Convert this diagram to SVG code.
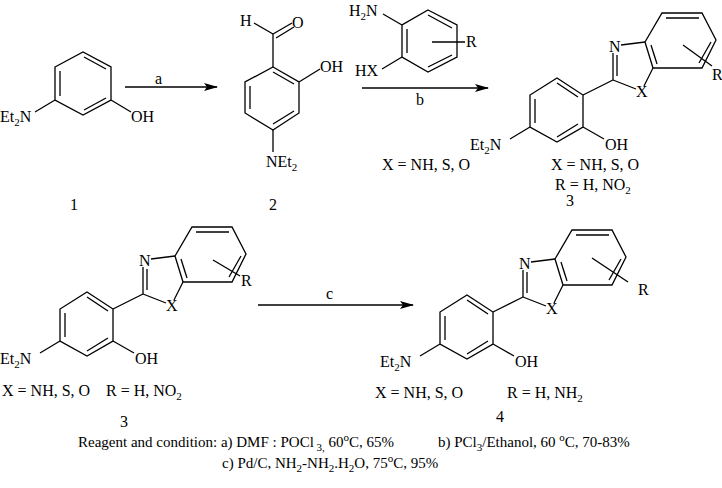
<svg xmlns="http://www.w3.org/2000/svg" width="722" height="488" viewBox="0 0 722 488">
<style>
line,polygon,polyline{stroke:#000;stroke-width:1.3;fill:none}
text{font-family:'Liberation Serif','DejaVu Serif',serif;font-size:16px;fill:#000}
.s{font-size:11px}
.c{font-size:15px}
</style>
<defs><marker id="ah" markerWidth="14" markerHeight="8" refX="13" refY="4" orient="auto" markerUnits="userSpaceOnUse"><path d="M0,0 L14,4 L0,8 L3,4 Z" fill="#000"/></marker></defs>
<rect width="722" height="488" fill="#fff"/>
<g id="c1">
<polygon points="55,67 83,52 111,67 111,100 83,115 55,100"/>
<line x1="60" y1="71" x2="60" y2="96"/><line x1="84" y1="57" x2="106" y2="69"/><line x1="106" y1="98" x2="84" y2="110"/>
<line x1="55" y1="100" x2="35" y2="112"/><line x1="111" y1="100" x2="131" y2="112"/>
<text x="0" y="122">Et<tspan class="s" dy="4">2</tspan><tspan dy="-4">N</tspan></text>
<text x="131" y="122">OH</text>
<text x="70" y="210">1</text>
</g>
<g id="c2">
<polygon points="273,67 299,82 299,113 273,130 245,113 245,82"/>
<line x1="250" y1="86" x2="250" y2="109"/><line x1="273" y1="72" x2="294" y2="84"/><line x1="294" y1="111" x2="273" y2="124"/>
<line x1="273" y1="67" x2="273" y2="34"/><line x1="273" y1="34" x2="254" y2="23"/>
<line x1="273" y1="34" x2="292" y2="23"/><line x1="276" y1="38" x2="294" y2="27"/>
<line x1="299" y1="82" x2="320" y2="69"/><line x1="273" y1="130" x2="273" y2="152"/>
<text x="240" y="26">H</text><text x="292" y="28">O</text>
<text x="320" y="72">OH</text>
<text x="266" y="167">NEt<tspan class="s" dy="4">2</tspan></text>
<text x="269" y="210">2</text>
</g>
<g id="reagent">
<polygon points="428,10 457,25 457,57 428,72 402,57 402,25"/>
<line x1="407" y1="29" x2="407" y2="53"/><line x1="428" y1="15" x2="452" y2="28"/><line x1="452" y1="55" x2="428" y2="67"/>
<line x1="383" y1="14" x2="402" y2="25"/><line x1="402" y1="57" x2="382" y2="69"/>
<line x1="432" y1="42" x2="465" y2="42"/>
<text x="349" y="16">H<tspan class="s" dy="4">2</tspan><tspan dy="-4">N</tspan></text>
<text x="355" y="76">HX</text>
<text x="466" y="47">R</text>
<text x="382" y="170">X = NH, S, O</text>
</g>
<g id="c3a">
<polygon points="557,78 583,95 583,127 557,142 530,127 530,95"/>
<line x1="535" y1="99" x2="535" y2="123"/><line x1="557" y1="83" x2="578" y2="97"/><line x1="578" y1="124" x2="557" y2="137"/>
<line x1="530" y1="127" x2="510" y2="139"/><line x1="583" y1="127" x2="604" y2="139"/>
<line x1="583" y1="95" x2="613" y2="80"/>
<line x1="613" y1="80" x2="613" y2="53"/><line x1="617" y1="76" x2="617" y2="55"/>
<line x1="621" y1="45" x2="645" y2="42"/>
<polygon points="645,42 662,13 702,13 716,40 702,68 653,68"/>
<line x1="651" y1="45" x2="657" y2="64"/><line x1="666" y1="18" x2="699" y2="18"/><line x1="711" y1="42" x2="699" y2="63"/>
<line x1="653" y1="68" x2="644" y2="86"/><line x1="636" y1="89" x2="613" y2="80"/>
<text x="609" y="52">N</text><text x="636" y="97">X</text>
<line x1="683" y1="45" x2="712" y2="66"/>
<text x="712" y="80">R</text>
<text x="470" y="150">Et<tspan class="s" dy="4">2</tspan><tspan dy="-4">N</tspan></text>
<text x="605" y="150">OH</text>
<text x="551" y="170">X = NH, S, O</text>
<text x="555" y="190">R = H, NO<tspan class="s" dy="4">2</tspan></text>
<text x="566" y="206">3</text>
</g>
<g id="c3b" transform="translate(-470,214)">
<polygon points="557,78 583,95 583,127 557,142 530,127 530,95"/>
<line x1="535" y1="99" x2="535" y2="123"/><line x1="557" y1="83" x2="578" y2="97"/><line x1="578" y1="124" x2="557" y2="137"/>
<line x1="530" y1="127" x2="510" y2="139"/><line x1="583" y1="127" x2="604" y2="139"/>
<line x1="583" y1="95" x2="613" y2="80"/>
<line x1="613" y1="80" x2="613" y2="53"/><line x1="617" y1="76" x2="617" y2="55"/>
<line x1="621" y1="45" x2="645" y2="42"/>
<polygon points="645,42 662,13 702,13 716,40 702,68 653,68"/>
<line x1="651" y1="45" x2="657" y2="64"/><line x1="666" y1="18" x2="699" y2="18"/><line x1="711" y1="42" x2="699" y2="63"/>
<line x1="653" y1="68" x2="644" y2="86"/><line x1="636" y1="89" x2="613" y2="80"/>
<text x="609" y="52">N</text><text x="636" y="97">X</text>
<line x1="683" y1="46" x2="710" y2="62"/>
<text x="711" y="72">R</text>
<text x="470" y="150">Et<tspan class="s" dy="4">2</tspan><tspan dy="-4">N</tspan></text>
<text x="605" y="150">OH</text>
<text x="472" y="182">X = NH, S, O</text>
<text x="576" y="182">R = H, NO<tspan class="s" dy="4">2</tspan></text>
<text x="590" y="213">3</text>
</g>
<g id="c4" transform="translate(-90,217)">
<polygon points="557,78 583,95 583,127 557,142 530,127 530,95"/>
<line x1="535" y1="99" x2="535" y2="123"/><line x1="557" y1="83" x2="578" y2="97"/><line x1="578" y1="124" x2="557" y2="137"/>
<line x1="530" y1="127" x2="510" y2="139"/><line x1="583" y1="127" x2="604" y2="139"/>
<line x1="583" y1="95" x2="613" y2="80"/>
<line x1="613" y1="80" x2="613" y2="53"/><line x1="617" y1="76" x2="617" y2="55"/>
<line x1="621" y1="45" x2="645" y2="42"/>
<polygon points="645,42 662,13 702,13 716,40 702,68 653,68"/>
<line x1="651" y1="45" x2="657" y2="64"/><line x1="666" y1="18" x2="699" y2="18"/><line x1="711" y1="42" x2="699" y2="63"/>
<line x1="653" y1="68" x2="644" y2="86"/><line x1="636" y1="89" x2="613" y2="80"/>
<text x="609" y="52">N</text><text x="636" y="97">X</text>
<line x1="682" y1="41" x2="718" y2="65"/>
<text x="728" y="78">R</text>
<text x="470" y="150">Et<tspan class="s" dy="4">2</tspan><tspan dy="-4">N</tspan></text>
<text x="605" y="150">OH</text>
<text x="465" y="181">X = NH, S, O</text>
<text x="597" y="181">R = H, NH<tspan class="s" dy="4">2</tspan></text>
<text x="586" y="205">4</text>
</g>
<g id="connectors">
<line x1="125" y1="87" x2="217" y2="87" marker-end="url(#ah)"/>
<line x1="362" y1="88" x2="488" y2="88" marker-end="url(#ah)"/>
<line x1="258" y1="305" x2="413" y2="305" marker-end="url(#ah)"/>
<text x="155" y="84">a</text>
<text x="416" y="105">b</text>
<text x="326" y="299">c</text>
</g>
<g id="conditions">
<text class="c" x="78" y="447">Reagent and condition: a) DMF : POCl<tspan class="s" dy="4"> 3,</tspan><tspan dy="-4"> 60</tspan><tspan class="s" dy="-6">o</tspan><tspan dy="6">C, 65%</tspan></text>
<text class="c" x="438" y="447">b) PCl<tspan class="s" dy="4">3</tspan><tspan dy="-4">/Ethanol, 60 </tspan><tspan class="s" dy="-6">o</tspan><tspan dy="6">C, 70-83%</tspan></text>
<text class="c" x="222" y="468">c) Pd/C, NH<tspan class="s" dy="4">2</tspan><tspan dy="-4">-NH</tspan><tspan class="s" dy="4">2</tspan><tspan dy="-4">.H</tspan><tspan class="s" dy="4">2</tspan><tspan dy="-4">O, 75</tspan><tspan class="s" dy="-6">o</tspan><tspan dy="6">C, 95%</tspan></text>
</g>
</svg>
